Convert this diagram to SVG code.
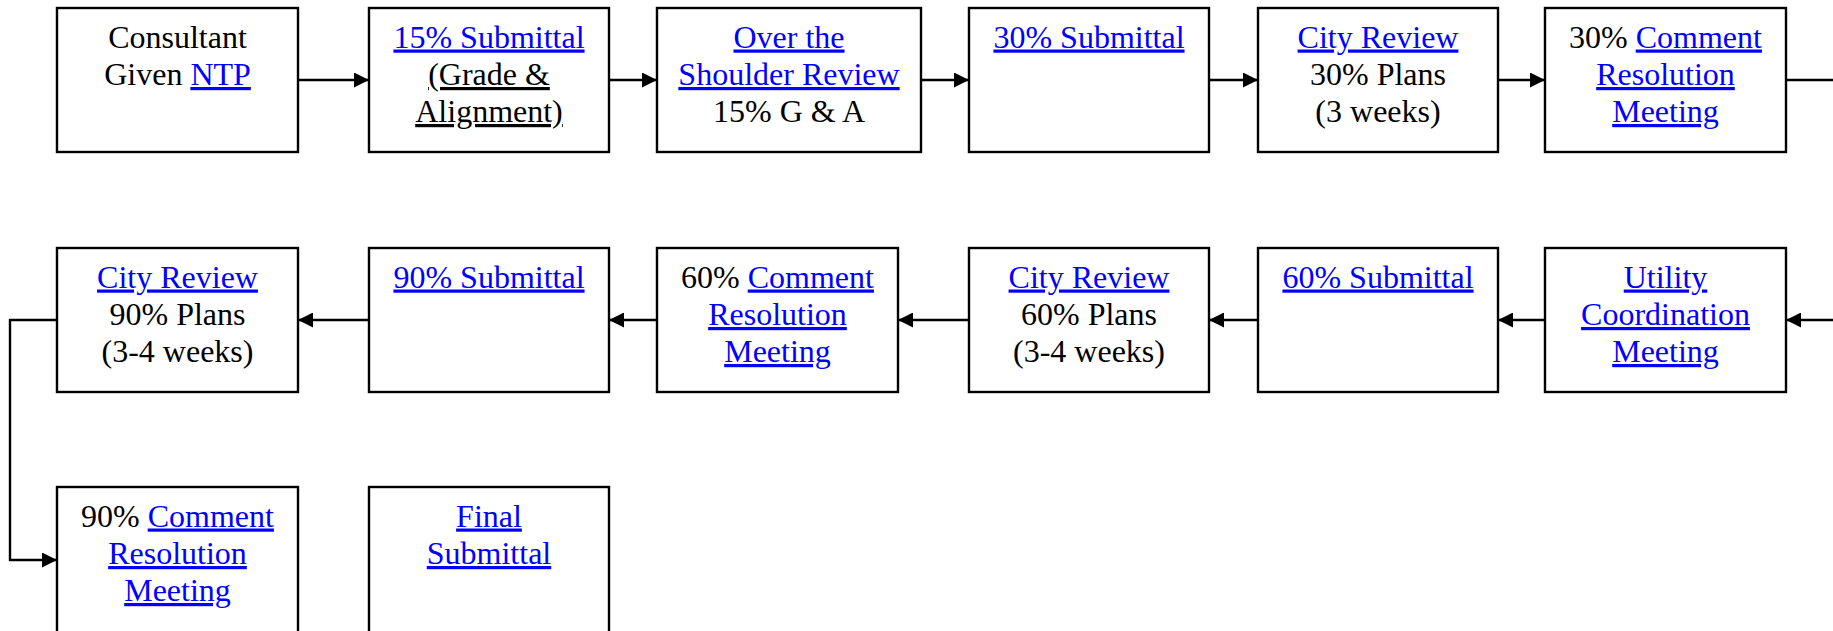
<svg xmlns="http://www.w3.org/2000/svg" width="1833" height="631" viewBox="0 0 1833 631">
<style>
.box{fill:#fff;stroke:#000;stroke-width:2.4}
.t{font-family:"Liberation Serif","Times New Roman",serif;font-size:32px;fill:#000;text-anchor:middle}
.a{fill:#0000ff;text-decoration:underline}
.u{text-decoration:underline}
.c{fill:none;stroke:#000;stroke-width:2.4}
</style>
<defs>
<marker id="ah" viewBox="0 0 15 15" refX="15" refY="7.5" markerWidth="15" markerHeight="15" markerUnits="userSpaceOnUse" orient="auto">
<path d="M0,0 L15,7.5 L0,15 Z" fill="#000"/>
</marker>
</defs>
<rect width="1833" height="631" fill="#fff"/>
<g id="connectors">
<line class="c" x1="298" y1="80" x2="369" y2="80" marker-end="url(#ah)"/>
<line class="c" x1="609" y1="80" x2="657" y2="80" marker-end="url(#ah)"/>
<line class="c" x1="921" y1="80" x2="969" y2="80" marker-end="url(#ah)"/>
<line class="c" x1="1209" y1="80" x2="1258" y2="80" marker-end="url(#ah)"/>
<line class="c" x1="1498" y1="80" x2="1545" y2="80" marker-end="url(#ah)"/>
<line class="c" x1="1786" y1="80" x2="1834" y2="80"/>
<line class="c" x1="1834" y1="320" x2="1786" y2="320" marker-end="url(#ah)"/>
<line class="c" x1="1545" y1="320" x2="1498" y2="320" marker-end="url(#ah)"/>
<line class="c" x1="1258" y1="320" x2="1209" y2="320" marker-end="url(#ah)"/>
<line class="c" x1="969" y1="320" x2="898" y2="320" marker-end="url(#ah)"/>
<line class="c" x1="657" y1="320" x2="609" y2="320" marker-end="url(#ah)"/>
<line class="c" x1="369" y1="320" x2="298" y2="320" marker-end="url(#ah)"/>
<polyline class="c" points="57,320 10,320 10,560 57,560" marker-end="url(#ah)"/>
</g>
<g id="n1">
<rect class="box" x="57" y="8" width="241" height="144"/>
<text class="t" x="177.5" y="47.5">Consultant</text>
<text class="t" x="177.5" y="85">Given <tspan class="a">NTP</tspan></text>
</g>
<g id="n2">
<rect class="box" x="369" y="8" width="240" height="144"/>
<text class="t" x="489" y="47.5"><tspan class="a">15% Submittal</tspan></text>
<text class="t" x="489" y="85"><tspan class="u">(Grade &amp;</tspan></text>
<text class="t" x="489" y="122"><tspan class="u">Alignment)</tspan></text>
</g>
<g id="n3">
<rect class="box" x="657" y="8" width="264" height="144"/>
<text class="t" x="789" y="47.5"><tspan class="a">Over the</tspan></text>
<text class="t" x="789" y="85"><tspan class="a">Shoulder Review</tspan></text>
<text class="t" x="789" y="122">15% G &amp; A</text>
</g>
<g id="n4">
<rect class="box" x="969" y="8" width="240" height="144"/>
<text class="t" x="1089" y="47.5"><tspan class="a">30% Submittal</tspan></text>
</g>
<g id="n5">
<rect class="box" x="1258" y="8" width="240" height="144"/>
<text class="t" x="1378" y="47.5"><tspan class="a">City Review</tspan></text>
<text class="t" x="1378" y="85">30% Plans</text>
<text class="t" x="1378" y="122">(3 weeks)</text>
</g>
<g id="n6">
<rect class="box" x="1545" y="8" width="241" height="144"/>
<text class="t" x="1665.5" y="47.5">30% <tspan class="a">Comment</tspan></text>
<text class="t" x="1665.5" y="85"><tspan class="a">Resolution</tspan></text>
<text class="t" x="1665.5" y="122"><tspan class="a">Meeting</tspan></text>
</g>
<g id="n7">
<rect class="box" x="1545" y="248" width="241" height="144"/>
<text class="t" x="1665.5" y="287.5"><tspan class="a">Utility</tspan></text>
<text class="t" x="1665.5" y="325"><tspan class="a">Coordination</tspan></text>
<text class="t" x="1665.5" y="362"><tspan class="a">Meeting</tspan></text>
</g>
<g id="n8">
<rect class="box" x="1258" y="248" width="240" height="144"/>
<text class="t" x="1378" y="287.5"><tspan class="a">60% Submittal</tspan></text>
</g>
<g id="n9">
<rect class="box" x="969" y="248" width="240" height="144"/>
<text class="t" x="1089" y="287.5"><tspan class="a">City Review</tspan></text>
<text class="t" x="1089" y="325">60% Plans</text>
<text class="t" x="1089" y="362">(3-4 weeks)</text>
</g>
<g id="n10">
<rect class="box" x="657" y="248" width="241" height="144"/>
<text class="t" x="777.5" y="287.5">60% <tspan class="a">Comment</tspan></text>
<text class="t" x="777.5" y="325"><tspan class="a">Resolution</tspan></text>
<text class="t" x="777.5" y="362"><tspan class="a">Meeting</tspan></text>
</g>
<g id="n11">
<rect class="box" x="369" y="248" width="240" height="144"/>
<text class="t" x="489" y="287.5"><tspan class="a">90% Submittal</tspan></text>
</g>
<g id="n12">
<rect class="box" x="57" y="248" width="241" height="144"/>
<text class="t" x="177.5" y="287.5"><tspan class="a">City Review</tspan></text>
<text class="t" x="177.5" y="325">90% Plans</text>
<text class="t" x="177.5" y="362">(3-4 weeks)</text>
</g>
<g id="n13">
<rect class="box" x="57" y="487" width="241" height="148"/>
<text class="t" x="177.5" y="526.5">90% <tspan class="a">Comment</tspan></text>
<text class="t" x="177.5" y="564"><tspan class="a">Resolution</tspan></text>
<text class="t" x="177.5" y="601"><tspan class="a">Meeting</tspan></text>
</g>
<g id="n14">
<rect class="box" x="369" y="487" width="240" height="148"/>
<text class="t" x="489" y="526.5"><tspan class="a">Final</tspan></text>
<text class="t" x="489" y="564"><tspan class="a">Submittal</tspan></text>
</g>
</svg>
